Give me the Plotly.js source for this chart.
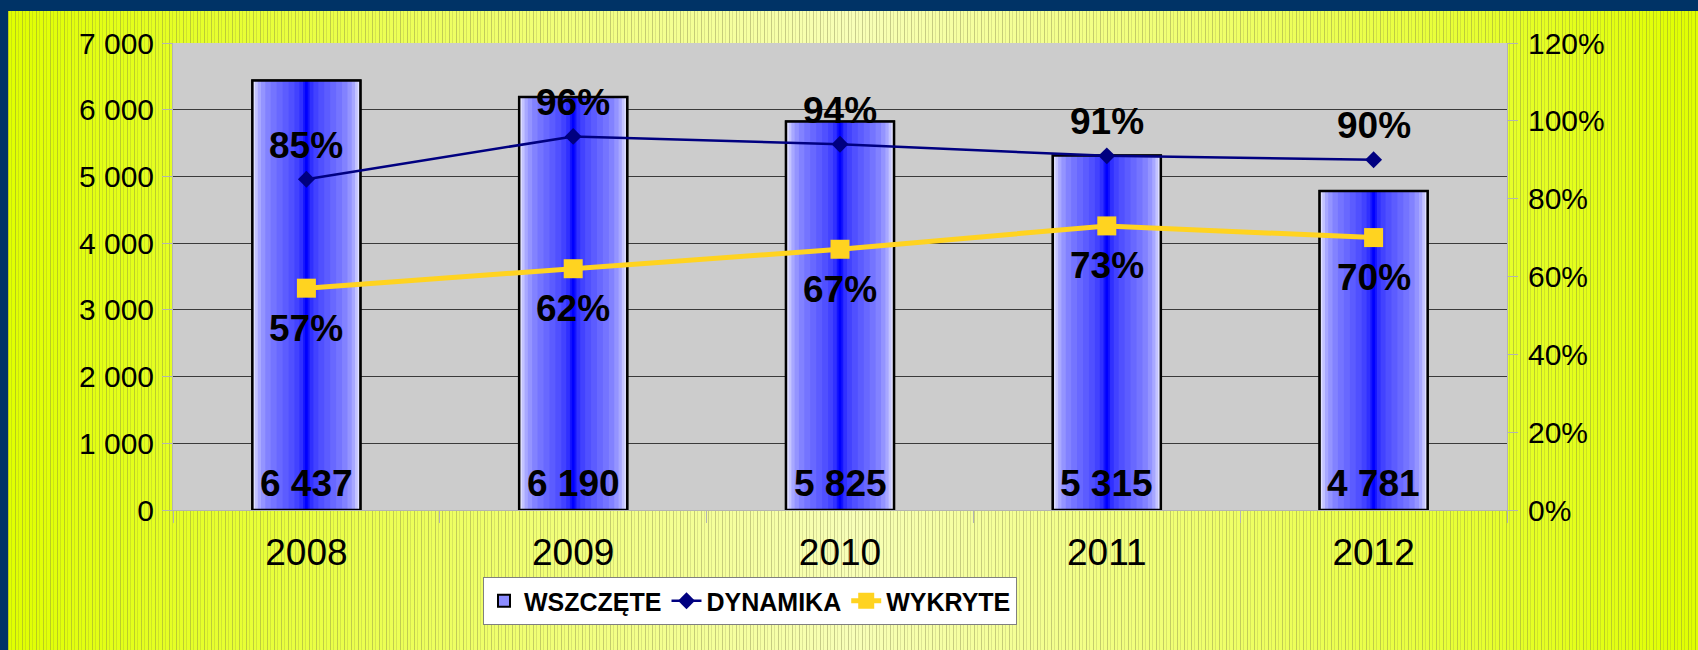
<!DOCTYPE html>
<html>
<head>
<meta charset="utf-8">
<script src="https://cdn.plot.ly/plotly-3.0.1.min.js"></script>
<style>
html,body{margin:0;padding:0;background:#003366;width:1698px;height:650px;overflow:hidden}
#bg{position:absolute;left:8px;top:11px;width:1690px;height:639px;
background:
 repeating-linear-gradient(to right, rgba(120,120,70,0.38) 0px, rgba(120,120,70,0.38) 1px, transparent 1px, transparent 3px, rgba(120,120,70,0.2) 3px, rgba(120,120,70,0.2) 4px, transparent 4px, transparent 7px),
 linear-gradient(to right,#e0ff00 0%,#f0ff70 30%,#f8ffb8 50%,#f0ff70 70%,#e0ff00 100%);}
#chart{position:absolute;left:0;top:0;width:1698px;height:650px}
</style>
</head>
<body>
<div id="bg"></div>
<div id="chart"></div>
<script>
// ---- data ----
const years = ['2008', '2009', '2010', '2011', '2012'];
const wszczete = [6437, 6190, 5825, 5315, 4781];
const dynamika = [85, 96, 94, 91, 90];
const wykryte = [57, 62, 67, 73, 70];
const seriesNames = ['WSZCZĘTE', 'DYNAMIKA', 'WYKRYTE'];

// ---- styling ----
const FONT = 'Liberation Sans, Arial, sans-serif';
const BAR_W = 0.405;
const gradientSteps = [
  [1.00, '#e2e2ff'], [0.95, '#c4c4ff'], [0.90, '#a8a8ff'], [0.84, '#9494ff'],
  [0.76, '#8282ff'], [0.66, '#7474ff'], [0.55, '#6868ff'], [0.44, '#5c5cff'],
  [0.33, '#5050ff'], [0.22, '#4242ff'], [0.13, '#3030ff'], [0.06, '#1414ff'],
  [0.025, '#0000ff']
];
const fmtThousands = v => String(v).replace(/\B(?=(\d{3})+(?!\d))/g, ' ');

const traces = [];
gradientSteps.forEach((s, i) => {
  traces.push({
    type: 'bar', x: years, y: wszczete, width: BAR_W * s[0],
    name: seriesNames[0], showlegend: i === 0,
    marker: {color: i === 0 ? '#8c8cff' : s[1], line: {color: '#000', width: i === 0 ? 2 : 0}},
    hoverinfo: 'skip'
  });
});
// first layer colour is the legend swatch; paint the pale edge colour via a second full-width layer
traces.splice(1, 0, {
  type: 'bar', x: years, y: wszczete, width: BAR_W, showlegend: false,
  marker: {color: gradientSteps[0][1], line: {width: 0}}, hoverinfo: 'skip'
});
// outline on top
traces.push({
  type: 'bar', x: years, y: wszczete, width: BAR_W, showlegend: false,
  marker: {color: 'rgba(0,0,0,0)', line: {color: '#000', width: 2.5}}, hoverinfo: 'skip'
});
traces.push({
  type: 'scatter', mode: 'lines+markers', x: years, y: dynamika, yaxis: 'y2',
  name: seriesNames[1],
  line: {color: '#000080', width: 2.5},
  marker: {symbol: 'diamond', size: 13, color: '#000080'}
});
traces.push({
  type: 'scatter', mode: 'lines+markers', x: years, y: wykryte, yaxis: 'y2',
  name: seriesNames[2],
  line: {color: '#ffd320', width: 5},
  marker: {symbol: 'square', size: 19, color: '#ffd320'}
});

const labelFont = {family: FONT, size: 37, color: '#000'};
const annotations = [];
years.forEach((yr, i) => {
  annotations.push({x: i, y: 0, xref: 'x', yref: 'y', text: '<b>' + fmtThousands(wszczete[i]) + '</b>',
    showarrow: false, yanchor: 'middle', xanchor: 'center', font: labelFont, yshift: 27});
  annotations.push({x: i, y: dynamika[i], xref: 'x', yref: 'y2', text: '<b>' + dynamika[i] + '%</b>',
    showarrow: false, yanchor: 'middle', xanchor: 'center', font: labelFont, yshift: 34});
  annotations.push({x: i, y: wykryte[i], xref: 'x', yref: 'y2', text: '<b>' + wykryte[i] + '%</b>',
    showarrow: false, yanchor: 'middle', xanchor: 'center', font: labelFont, yshift: -40});
});

const axisGray = '#b3b3b3';
const layout = {
  width: 1698, height: 650,
  margin: {l: 173, r: 191, t: 43, b: 140, pad: 0},
  paper_bgcolor: 'rgba(0,0,0,0)',
  plot_bgcolor: '#cccccc',
  font: {family: FONT, color: '#000'},
  separators: ', ',
  barmode: 'overlay',
  showlegend: true,
  legend: {
    orientation: 'h', xref: 'container', yref: 'container',
    x: 483 / 1698, y: 1 - 577 / 650, xanchor: 'left', yanchor: 'top',
    bgcolor: '#ffffff', bordercolor: '#808080', borderwidth: 1,
    font: {family: FONT, size: 25, color: '#000', weight: 'bold'},
    itemwidth: 30, tracegroupgap: 0
  },
  xaxis: {
    type: 'category', showgrid: false, zeroline: false,
    showline: true, linecolor: axisGray, linewidth: 1,
    ticks: 'outside', tickson: 'boundaries', ticklen: 12, tickcolor: axisGray,
    tickfont: {family: FONT, size: 37, color: '#000'},
    ticklabelstandoff: 10,
    range: [-0.5, 4.5]
  },
  yaxis: {
    range: [0, 7000], dtick: 1000, tick0: 0,
    showgrid: true, gridcolor: '#3a3a3a', gridwidth: 1, zeroline: false,
    showline: true, linecolor: axisGray, linewidth: 1,
    ticks: 'outside', ticklen: 10, tickcolor: axisGray,
    separatethousands: true, tickformat: ',d',
    tickfont: {family: FONT, size: 30, color: '#000'},
    ticklabelstandoff: 2
  },
  yaxis2: {
    overlaying: 'y', side: 'right', range: [0, 120], dtick: 20, tick0: 0,
    ticksuffix: '%', showgrid: false, zeroline: false,
    showline: true, linecolor: axisGray, linewidth: 1,
    ticks: 'outside', ticklen: 10, tickcolor: axisGray,
    tickfont: {family: FONT, size: 30, color: '#000'},
    ticklabelstandoff: 4
  },
  annotations: annotations
};

Plotly.newPlot('chart', traces, layout, {staticPlot: true, displayModeBar: false});
</script>
</body>
</html>
